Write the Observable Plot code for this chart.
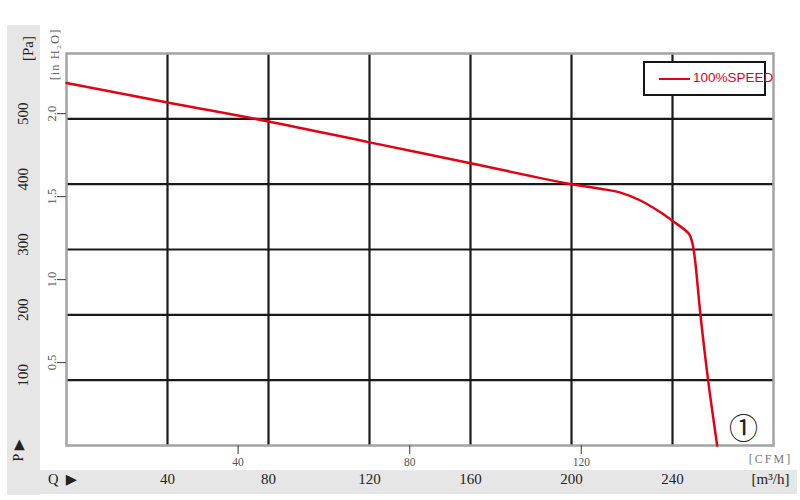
<!DOCTYPE html>
<html>
<head>
<meta charset="utf-8">
<script src="https://cdn.jsdelivr.net/npm/d3@7"></script>
<script src="https://cdn.jsdelivr.net/npm/@observablehq/plot@0.6"></script>
<style>
  body { margin: 0; background: #fff; }
  #wrap { position: relative; width: 800px; height: 500px; overflow: hidden; }
  .band { position: absolute; background: #e6e6e6; }
  #legend { position: absolute; left: 643px; top: 61px; width: 119px; height: 31px;
            border: 2px solid #151515; background: #fff; }
  #legend .sw { position: absolute; left: 14px; top: 15px; width: 31px; height: 2px; background: #e60012; }
  #legend .lb { position: absolute; left: 48px; top: 7px; font: 13.5px "Liberation Sans", Arial, sans-serif;
                color: #e60012; white-space: nowrap; }
  #chart { position: absolute; left: 0; top: 0; }
</style>
</head>
<body>
<div id="wrap">
  <div class="band" style="left:7px; top:25px; width:33px; height:470px;"></div>
  <div class="band" style="left:7px; top:470px; width:790px; height:24px;"></div>
  <div id="chart"></div>
  <div id="legend"><div class="sw"></div><div class="lb">100%SPEED</div></div>
</div>
<script>
// Curve data (airflow in m³/h, static pressure in Pa)
const flowM3h = [0, 40, 80, 120, 160, 200, 211.5, 219.4, 227.3, 235.2, 240.3, 246.5, 247.8, 248.8, 251.1, 254.1, 257.7];
const pressurePa = [555, 525, 496, 464, 432, 400, 393, 387, 375, 357, 343, 324, 311, 288, 199, 100, 0];

// Tick values
const m3hTicks = [40, 80, 120, 160, 200, 240];
const paTicks = [100, 200, 300, 400, 500];
const cfmTicks = [40, 80, 120];
const inH2OTicks = [0.5, 1.0, 1.5, 2.0];
const M3H_PER_CFM = 1.699;
const PA_PER_INH2O = 254;

const serif = "'Liberation Serif', 'DejaVu Serif', serif";
const curve = flowM3h.map((q, i) => ({q, p: pressurePa[i]}));

const chart = Plot.plot({
  width: 800,
  height: 500,
  marginLeft: 66,
  marginRight: 27,
  marginTop: 53,
  marginBottom: 55,
  style: {background: "transparent", overflow: "visible"},
  x: {domain: [0, 280], axis: null},
  y: {domain: [0, 600], axis: null},
  marks: [
    Plot.ruleY(paTicks, {stroke: "#1a1a1a", strokeWidth: 2.2}),
    Plot.ruleX(m3hTicks, {stroke: "#1a1a1a", strokeWidth: 2.2}),
    Plot.frame({stroke: "#a3a3a3", strokeWidth: 2.5}),
    // Pa labels in left band
    Plot.text(paTicks, {y: d => d, text: d => String(d), frameAnchor: "left", textAnchor: "middle",
      dx: -43, dy: -5, rotate: -90, fontSize: 15, fontFamily: serif, fill: "#222"}),
    Plot.text(["[Pa]"], {text: d => d, frameAnchor: "top-left", textAnchor: "middle", dx: -44, dy: -5, rotate: -90,
      fontSize: 15, fontFamily: serif, fill: "#222"}),
    Plot.text(["P\u00a0\u25B6"], {text: d => d, frameAnchor: "bottom-left", textAnchor: "middle", dx: -44, dy: 5, rotate: -90,
      fontSize: 14, fontFamily: serif, fill: "#222"}),
    // inH2O secondary axis
    Plot.axisY(inH2OTicks.map(d => d * PA_PER_INH2O), {anchor: "left", tickSize: 9, tickFormat: () => "",
      label: null, stroke: "#555", strokeWidth: 1.2}),
    Plot.text(inH2OTicks, {y: d => d * PA_PER_INH2O, text: d => d.toFixed(1), frameAnchor: "left", textAnchor: "middle",
      dx: -15, rotate: -90, fontSize: 12.5, fontFamily: serif, fill: "#555"}),
    Plot.text(["[in H\u2082O]"], {text: d => d, frameAnchor: "top-left", textAnchor: "middle", dx: -16, dy: 1, rotate: -90,
      fontSize: 12.5, fontFamily: serif, fill: "#666"}),
    // CFM secondary axis
    Plot.axisX(cfmTicks.map(d => d * M3H_PER_CFM), {anchor: "bottom", tickSize: 9, tickPadding: 3,
      tickFormat: d => String(Math.round(d / M3H_PER_CFM)), label: null, fontSize: 11.5,
      fontFamily: serif, color: "#555", strokeWidth: 1.2}),
    Plot.text(["[CFM]"], {text: d => d, frameAnchor: "bottom-right", textAnchor: "middle", dx: -3, dy: 17,
      fontSize: 12, fontFamily: serif, fill: "#777"}),
    // m³/h labels in bottom band
    Plot.text(m3hTicks, {x: d => d, text: d => String(d), frameAnchor: "bottom", dy: 38,
      fontSize: 15, fontFamily: serif, fill: "#222"}),
    Plot.text(["Q\u00a0\u00a0\u25B6"], {text: d => d, frameAnchor: "bottom-left", textAnchor: "middle", dx: -4, dy: 38,
      fontSize: 14.5, fontFamily: serif, fill: "#222"}),
    Plot.text(["[m\u00b3/h]"], {text: d => d, frameAnchor: "bottom-right", textAnchor: "middle", dx: -3, dy: 38,
      fontSize: 15, fontFamily: serif, fill: "#222"}),
    // curve
    Plot.line(curve, {x: "q", y: "p", stroke: "#e60012", strokeWidth: 2.5, curve: "catmull-rom"}),
    // curve number
    Plot.text(["\u2460"], {text: d => d, frameAnchor: "bottom-right", textAnchor: "middle", dx: -30, dy: -7,
      fontSize: 29, fontFamily: "'Noto Sans CJK SC', 'DejaVu Sans', sans-serif", fill: "#222"})
  ]
});
d3.select(chart).selectAll("text")
  .filter(function() { return this.textContent === "[CFM]"; })
  .attr("letter-spacing", "2");
d3.select(chart).selectAll("text")
  .filter(function() { return this.textContent === "[in H\u2082O]"; })
  .attr("letter-spacing", "1");
document.getElementById("chart").appendChild(chart);
</script>
</body>
</html>
